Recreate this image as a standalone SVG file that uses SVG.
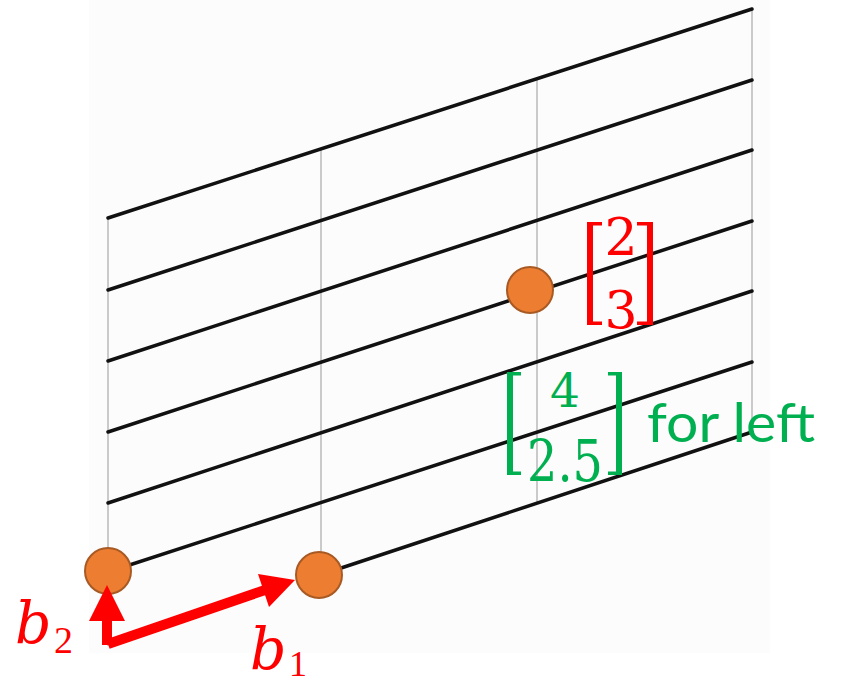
<svg xmlns="http://www.w3.org/2000/svg" width="855" height="683" viewBox="0 0 855 683">
<style>
.grid{stroke:#111;stroke-width:3.5;fill:none;stroke-linecap:round}
.vert{stroke:#bdbdbd;stroke-width:1.6;fill:none}
.pt{fill:#ED7D31;stroke:#A85A24;stroke-width:2}
.red{fill:#FF0000}
.green{fill:#00B050}
.num{font-family:"DejaVu Serif","Liberation Serif",serif}
.sub{font-family:"Liberation Serif","DejaVu Serif",serif}
.var{font-family:"DejaVu Serif","Liberation Serif",serif;font-style:italic}
.lab{font-family:Lato,"Liberation Sans",sans-serif}
</style>
<rect x="0" y="0" width="855" height="683" fill="#ffffff"/>
<rect x="89" y="0" width="681" height="653" fill="#fcfcfc"/>
<g id="verticals">
<line class="vert" x1="108" y1="218" x2="108" y2="646"/>
<line class="vert" x1="321" y1="149" x2="321" y2="575"/>
<line class="vert" x1="537" y1="78" x2="537" y2="503"/>
<line class="vert" x1="752" y1="9" x2="752" y2="432"/>
</g>
<g id="grid-lines">
<line class="grid" x1="108" y1="218" x2="752" y2="9"/>
<line class="grid" x1="108" y1="290" x2="752" y2="80"/>
<line class="grid" x1="108" y1="361" x2="752" y2="150"/>
<line class="grid" x1="108" y1="432" x2="752" y2="221"/>
<line class="grid" x1="108" y1="503" x2="752" y2="291"/>
<line class="grid" x1="108" y1="572" x2="752" y2="362"/>
<line class="grid" x1="320" y1="575" x2="752" y2="432"/>
</g>
<g id="point-origin"><circle class="pt" cx="108" cy="571" r="23"/></g>
<g id="point-b1"><circle class="pt" cx="319" cy="575" r="23"/></g>
<g id="point-23"><circle class="pt" cx="530" cy="290" r="23"/></g>
<g id="connectors">
<line x1="107" y1="645" x2="107" y2="618" stroke="#FF0000" stroke-width="10"/>
<polygon class="red" points="107,585 125,621 89,621"/>
<line x1="108" y1="644" x2="265" y2="590" stroke="#FF0000" stroke-width="10"/>
<polygon class="red" points="295,580 258,574 269,607"/>
</g>
<g id="label-b2">
<text class="var red" x="15" y="643" font-size="57">b</text>
<text class="sub red" x="54" y="653" font-size="38">2</text>
</g>
<g id="label-b1">
<text class="var red" x="250" y="669" font-size="57">b</text>
<text class="sub red" x="289" y="676" font-size="36">1</text>
</g>
<g id="label-23">
<polygon class="red" points="587,222 602,222 602,225.5 593,225.5 593,321.5 602,321.5 602,325 587,325"/>
<polygon class="red" points="653,222 637,222 637,225.5 647,225.5 647,321.5 637,321.5 637,325 653,325"/>
<text class="num red" x="621" y="255" font-size="52" text-anchor="middle">2</text>
<text class="num red" x="621" y="328" font-size="52" text-anchor="middle">3</text>
</g>
<g id="label-left">
<polygon class="green" points="507,372 521,372 521,375.5 513,375.5 513,471.5 521,471.5 521,475 507,475"/>
<polygon class="green" points="622,372 608,372 608,375.5 616,375.5 616,471.5 608,471.5 608,475 622,475"/>
<text class="num green" x="565" y="407" font-size="47" text-anchor="middle">4</text>
<text class="num green" x="565" y="481" font-size="58" text-anchor="middle" textLength="76" lengthAdjust="spacingAndGlyphs">2.5</text>
<text class="lab green" x="647" y="442" font-size="55" textLength="168" lengthAdjust="spacingAndGlyphs">for left</text>
</g>
</svg>
